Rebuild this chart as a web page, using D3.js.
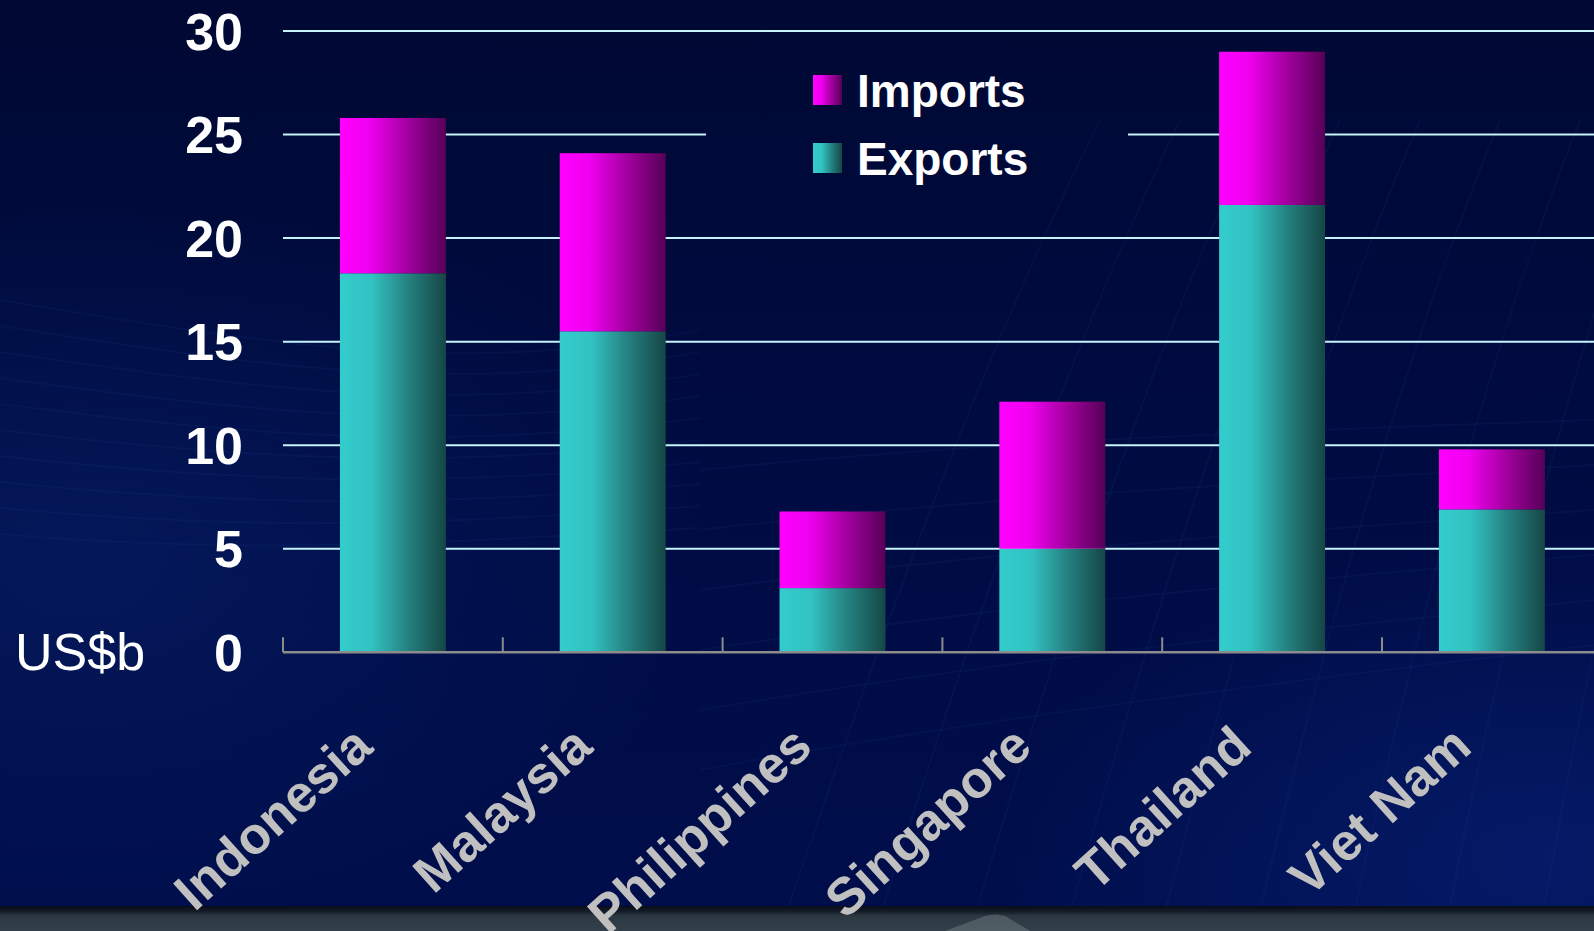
<!DOCTYPE html>
<html>
<head>
<meta charset="utf-8">
<script src="https://cdn.jsdelivr.net/npm/d3@7"></script>
<style>
  html, body { margin: 0; padding: 0; background: #000a3c; }
  svg { display: block; }
</style>
</head>
<body>
<svg id="chart" width="1594" height="931"></svg>
<script>
// Trade with ASEAN partners, US$ billion
const countries = ["Indonesia", "Malaysia", "Philippines", "Singapore", "Thailand", "Viet Nam"];
const exportsVals = [18.3, 15.5, 3.1, 5.0, 21.6, 6.9];
const importsVals = [7.5, 8.6, 3.7, 7.1, 7.4, 2.9];
const yTicks = [0, 5, 10, 15, 20, 25, 30];
const seriesNames = ["Imports", "Exports"];
const unitLabel = "US$b";

const W = 1594, H = 931;
const svg = d3.select("#chart");
const defs = svg.append("defs");

// ---- background ----
const bg = defs.append("linearGradient").attr("id", "bg").attr("x1", 0).attr("y1", 0).attr("x2", 0).attr("y2", 1);
bg.append("stop").attr("offset", 0).attr("stop-color", "#000933");
bg.append("stop").attr("offset", 0.5).attr("stop-color", "#000b42");
bg.append("stop").attr("offset", 1).attr("stop-color", "#000e4c");
const glowL = defs.append("radialGradient").attr("id", "glowL").attr("cx", 0.05).attr("cy", 0.6).attr("r", 0.4);
glowL.append("stop").attr("offset", 0).attr("stop-color", "#0a2a7a").attr("stop-opacity", 0.4);
glowL.append("stop").attr("offset", 1).attr("stop-color", "#0a2a7a").attr("stop-opacity", 0);
const glowR = defs.append("radialGradient").attr("id", "glowR").attr("cx", 0.97).attr("cy", 0.92).attr("r", 0.35);
glowR.append("stop").attr("offset", 0).attr("stop-color", "#0a2a8a").attr("stop-opacity", 0.45);
glowR.append("stop").attr("offset", 1).attr("stop-color", "#0a2a8a").attr("stop-opacity", 0);

svg.append("rect").attr("width", W).attr("height", H).attr("fill", "url(#bg)");
svg.append("rect").attr("width", W).attr("height", H).attr("fill", "url(#glowL)");
svg.append("rect").attr("width", W).attr("height", H).attr("fill", "url(#glowR)");

// faint sweeping lines in the backdrop
const texture = svg.append("g").attr("fill", "none").attr("stroke", "#2a4aa0").attr("stroke-opacity", 0.1).attr("stroke-width", 2);
d3.range(10).forEach(i => {
  texture.append("path").attr("d", `M0,${300 + i * 26} C250,${340 + i * 24} 450,${380 + i * 18} 700,${330 + i * 22}`);
});
d3.range(9).forEach(i => {
  texture.append("path").attr("d", `M${780 + i * 95},931 C${860 + i * 90},700 ${960 + i * 85},400 ${1100 + i * 80},120`);
});
d3.range(6).forEach(i => {
  texture.append("path").attr("d", `M700,${470 + i * 60} C1000,${440 + i * 55} 1300,${430 + i * 50} 1594,${420 + i * 45}`);
});

// bottom band
const band = defs.append("linearGradient").attr("id", "band").attr("x1", 0).attr("y1", 0).attr("x2", 0).attr("y2", 1);
band.append("stop").attr("offset", 0).attr("stop-color", "#080c18");
band.append("stop").attr("offset", 0.22).attr("stop-color", "#151d28");
band.append("stop").attr("offset", 0.4).attr("stop-color", "#2b3842");
band.append("stop").attr("offset", 1).attr("stop-color", "#33404a");
svg.append("rect").attr("x", 0).attr("y", 906).attr("width", W).attr("height", H - 906).attr("fill", "url(#band)");
svg.append("path").attr("d", "M945,931 L985,916 Q995,913 1005,916 L1030,931 Z").attr("fill", "#6a747c").attr("opacity", 0.55);

// ---- scales ----
const x = d3.scaleBand().domain(countries).range([283, 283 + 6 * 219.8]).paddingInner(0.518).paddingOuter(0.259);
const y = d3.scaleLinear().domain([0, 30]).range([652.3, 31]);

// ---- gradients for bars ----
function hGrad(id, stops) {
  const g = defs.append("linearGradient").attr("id", id).attr("x1", 0).attr("y1", 0).attr("x2", 1).attr("y2", 0);
  stops.forEach(([o, c]) => g.append("stop").attr("offset", o).attr("stop-color", c));
}
hGrad("gradExports", [[0, "#33cccc"], [0.3, "#32c2c2"], [0.65, "#24807f"], [1, "#154646"]]);
hGrad("gradImports", [[0, "#ff00ff"], [0.28, "#f000f0"], [0.65, "#a0009c"], [1, "#560058"]]);
const fills = { Imports: "url(#gradImports)", Exports: "url(#gradExports)" };

// ---- gridlines (interrupted behind the legend) ----
const mask = defs.append("mask").attr("id", "gridMask").attr("maskUnits", "userSpaceOnUse")
  .attr("x", 0).attr("y", 0).attr("width", W).attr("height", H);
mask.append("rect").attr("width", W).attr("height", H).attr("fill", "white");
mask.append("rect").attr("x", 706).attr("y", 45).attr("width", 422).attr("height", 170).attr("fill", "black");

svg.append("g").attr("mask", "url(#gridMask)")
  .selectAll("line").data(yTicks.filter(d => d > 0)).join("line")
  .attr("x1", x.range()[0]).attr("x2", W)
  .attr("y1", d => y(d)).attr("y2", d => y(d))
  .attr("stroke", "#c4f4fa").attr("stroke-width", 2);

// ---- stacked bars ----
const rows = countries.map((c, i) => ({ country: c, Exports: exportsVals[i], Imports: importsVals[i] }));
const stack = d3.stack().keys(["Exports", "Imports"])(rows);
svg.append("g").selectAll("g").data(stack).join("g")
  .attr("fill", d => fills[d.key])
  .selectAll("rect").data(d => d).join("rect")
  .attr("x", d => x(d.data.country))
  .attr("width", x.bandwidth())
  .attr("y", d => y(d[1]))
  .attr("height", d => y(d[0]) - y(d[1]));

// ---- x axis: baseline and category boundary ticks ----
const step = x.step();
const x0 = x.range()[0];
svg.append("line").attr("x1", x0).attr("x2", W).attr("y1", y(0)).attr("y2", y(0))
  .attr("stroke", "#8c8c8c").attr("stroke-width", 2.5);
svg.append("g").selectAll("line").data(d3.range(countries.length)).join("line")
  .attr("x1", i => x0 + i * step).attr("x2", i => x0 + i * step)
  .attr("y1", y(0)).attr("y2", y(0) - 15)
  .attr("stroke", "#8c8c8c").attr("stroke-width", 2);

// category labels, rotated
svg.append("g").selectAll("text").data(countries).join("text")
  .attr("transform", d => `translate(${x(d) + x.bandwidth() / 2 - 18},750) rotate(-42)`)
  .attr("text-anchor", "end")
  .attr("font-family", "'Liberation Sans', Arial, sans-serif")
  .attr("font-weight", "bold")
  .attr("font-size", 52)
  .attr("fill", "#c0c0c0")
  .text(d => d);

// ---- y axis labels ----
svg.append("g").selectAll("text").data(yTicks).join("text")
  .attr("x", 243).attr("y", d => y(d))
  .attr("dy", "0.36em")
  .attr("text-anchor", "end")
  .attr("font-family", "'Liberation Sans', Arial, sans-serif")
  .attr("font-weight", "bold")
  .attr("font-size", 52)
  .attr("fill", "#ffffff")
  .text(d => d);

svg.append("text").attr("x", 15).attr("y", 670)
  .attr("font-family", "'Liberation Sans', Arial, sans-serif")
  .attr("font-size", 52).attr("fill", "#ffffff")
  .text(unitLabel);

// ---- legend ----
const legend = svg.append("g").attr("transform", "translate(813,75)");
const li = legend.selectAll("g").data(seriesNames).join("g")
  .attr("transform", (d, i) => `translate(0,${i * 68})`);
li.append("rect").attr("width", 29).attr("height", 30).attr("fill", d => fills[d]);
li.append("text").attr("x", 44).attr("y", 32)
  .attr("font-family", "'Liberation Sans', Arial, sans-serif")
  .attr("font-weight", "bold").attr("font-size", 46)
  .attr("fill", "#ffffff")
  .text(d => d);
</script>
</body>
</html>
